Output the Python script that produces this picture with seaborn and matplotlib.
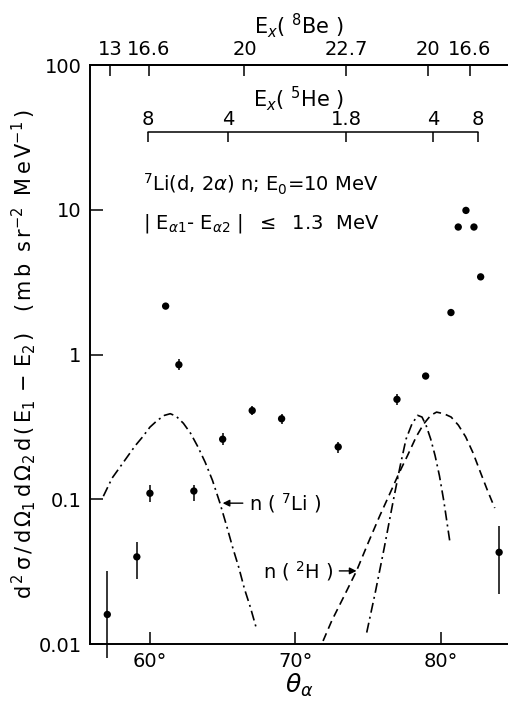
import matplotlib
matplotlib.use("Agg")
import matplotlib.pyplot as plt
import seaborn as sns
import pandas as pd

# Measured points: angle (deg) and cross section (mb sr^-2 MeV^-1)
theta = [57.07, 59.1, 60.0, 61.08, 61.99, 63.02, 65.0, 67.03, 69.05, 72.94,
         76.98, 78.95, 80.69, 81.19, 81.72, 82.27, 82.73, 84.0]
sigma = [0.016, 0.040, 0.11, 2.16, 0.85, 0.114, 0.26, 0.41, 0.36, 0.23,
         0.49, 0.71, 1.95, 7.6, 9.9, 7.6, 3.44, 0.043]
sigma_lo = [0.008, 0.028, 0.096, 2.16, 0.78, 0.097, 0.236, 0.38, 0.33, 0.21,
            0.45, 0.71, 1.95, 7.6, 9.9, 7.6, 3.44, 0.022]
sigma_hi = [0.032, 0.051, 0.125, 2.16, 0.93, 0.126, 0.285, 0.44, 0.39, 0.25,
            0.53, 0.71, 1.95, 7.6, 9.9, 7.6, 3.44, 0.065]

# n(7Li) curves (dash-dot), two branches
li7_a_theta = [56.8, 57.4, 58.0, 58.5, 59.0, 59.5, 60.0, 60.5, 61.0, 61.4,
               61.8, 62.3, 62.8, 63.3, 63.8, 64.3, 64.8, 65.3, 65.7, 66.1,
               66.5, 66.9, 67.3]
li7_a_val = [0.105, 0.14, 0.17, 0.20, 0.235, 0.27, 0.315, 0.35, 0.38, 0.39,
             0.375, 0.335, 0.285, 0.23, 0.18, 0.135, 0.095, 0.064, 0.046,
             0.034, 0.024, 0.018, 0.013]
li7_b_theta = [74.9, 75.5, 76.1, 76.7, 77.2, 77.6, 78.0, 78.4, 78.7, 79.0,
               79.3, 79.6, 79.9, 80.2, 80.6]
li7_b_val = [0.012, 0.023, 0.046, 0.095, 0.17, 0.26, 0.33, 0.38, 0.37, 0.32,
             0.26, 0.20, 0.145, 0.097, 0.052]

# n(2H) curve (dashed)
h2_theta = [71.9, 72.5, 73.3, 74.2, 75.0, 75.8, 76.5, 77.1, 77.7, 78.3,
            78.8, 79.3, 79.7, 80.2, 80.7, 81.2, 81.7, 82.2, 82.7, 83.2, 83.7]
h2_val = [0.0105, 0.0145, 0.021, 0.032, 0.05, 0.077, 0.11, 0.15, 0.2, 0.27,
          0.33, 0.38, 0.40, 0.39, 0.37, 0.325, 0.27, 0.21, 0.155, 0.115,
          0.087]

# Axis ticks
x_ticks = [60, 70, 80]
x_labels = ["60°", "70°", "80°"]
y_ticks = [0.01, 0.1, 1, 10, 100]
y_labels = ["0.01", "0.1", "1", "10", "100"]
be8_theta = [57.25, 59.93, 66.5, 73.5, 79.1, 82.0]
be8_labels = ["13", "16.6", "20", "22.7", "20", "16.6"]
he5_theta = [59.86, 65.36, 73.47, 79.45, 82.54]
he5_labels = ["8", "4", "1.8", "4", "8"]

sns.set_style("ticks")
plt.rcParams["font.family"] = ["DejaVu Sans"]
plt.rcParams["mathtext.fontset"] = "dejavusans"
for k in ["text.color", "axes.labelcolor", "xtick.color", "ytick.color",
          "axes.edgecolor"]:
    plt.rcParams[k] = "black"

fig = plt.figure(figsize=(5.08, 7.03), dpi=100)
ax = fig.add_axes([0.177, 0.0839, 0.823, 0.8236])

lw = 1.2
pts = pd.DataFrame({"theta": theta, "sigma": sigma})
ax.vlines(theta, sigma_lo, sigma_hi, color="black", lw=1.1, clip_on=False)
sns.scatterplot(data=pts, x="theta", y="sigma", color="black", s=28,
                edgecolor="none", ax=ax, zorder=3, clip_on=False)

dashdot = (0, (6, 2.5, 1.2, 2.5))
sns.lineplot(x=li7_a_theta, y=li7_a_val, sort=False, estimator=None,
             color="black", lw=lw, linestyle=dashdot, ax=ax)
sns.lineplot(x=li7_b_theta, y=li7_b_val, sort=False, estimator=None,
             color="black", lw=lw, linestyle=dashdot, ax=ax)
sns.lineplot(x=h2_theta, y=h2_val, sort=False, estimator=None,
             color="black", lw=lw, linestyle=(0, (5, 3)), ax=ax)

ax.set_yscale("log")
ax.set_xlim(55.876, 84.61)
ax.set_ylim(0.01, 100)
ax.set_xticks(x_ticks)
ax.set_xticklabels(x_labels)
ax.set_yticks(y_ticks)
ax.set_yticklabels(y_labels)
ax.minorticks_off()
ax.tick_params(direction="in", length=9, width=1.1, labelsize=14, pad=6)
for s in ["left", "bottom", "top"]:
    ax.spines[s].set_linewidth(1.4)
ax.spines["right"].set_visible(False)

ax.set_xlabel(r"$\theta_\alpha$", fontsize=18, labelpad=0)
ax.set_ylabel(r"$\mathrm{d^{\,2}\,\sigma\,/\,d\,\Omega_1\,d\,\Omega_2\,d\,"
              r"(\,E_1\,-\,E_2\,)\quad(\,m\,b\;\;s\,r^{-2}\;\;"
              r"M\,e\,V^{-1}\,)}$", fontsize=15, labelpad=0)

# top axis: Ex(8Be)
ax2 = ax.twiny()
ax2.set_xlim(ax.get_xlim())
ax2.set_xticks(be8_theta)
ax2.set_xticklabels(be8_labels)
ax2.minorticks_off()
ax2.tick_params(direction="in", length=8, width=1.1, labelsize=14, pad=4)
for s in ["left", "right", "bottom"]:
    ax2.spines[s].set_visible(False)
ax2.spines["top"].set_linewidth(1.4)
ax2.set_xlabel(r"E$_x$( $^8$Be )", fontsize=15, labelpad=5)

# inner scale: Ex(5He)
tr = ax.get_xaxis_transform()
ax.plot([he5_theta[0], he5_theta[-1]], [0.884, 0.884], color="black",
        lw=1.1, transform=tr)
ax.vlines(he5_theta, 0.867, 0.884, color="black", lw=1.1, transform=tr)
for t, lab in zip(he5_theta, he5_labels):
    ax.text(t, 0.889, lab, transform=tr, ha="center", va="bottom", fontsize=14)
ax.text(0.5, 0.942, r"E$_x$( $^5$He )", transform=ax.transAxes, ha="center",
        va="center", fontsize=15)

# reaction info
ax.text(0.127, 0.793, r"$^7$Li(d, 2$\alpha$) n; E$_0$=10 MeV",
        transform=ax.transAxes, ha="left", va="center", fontsize=14)
ax.text(0.127, 0.727,
        r"| E$_{\alpha 1}$- E$_{\alpha 2}$ |  $\leq$  1.3  MeV",
        transform=ax.transAxes, ha="left", va="center", fontsize=14)

# curve labels
arrow = dict(arrowstyle="-|>", color="black", lw=1.0, mutation_scale=10,
             shrinkA=2, shrinkB=0)
ax.annotate(r"n ( $^7$Li )", xy=(65.0, 0.094), xytext=(66.8, 0.094),
            ha="left", va="center", fontsize=14, arrowprops=arrow)
ax.annotate(r"n ( $^2$H )", xy=(74.2, 0.032), xytext=(72.6, 0.032),
            ha="right", va="center", fontsize=14, arrowprops=arrow)

fig.savefig("out.png", dpi=100)
